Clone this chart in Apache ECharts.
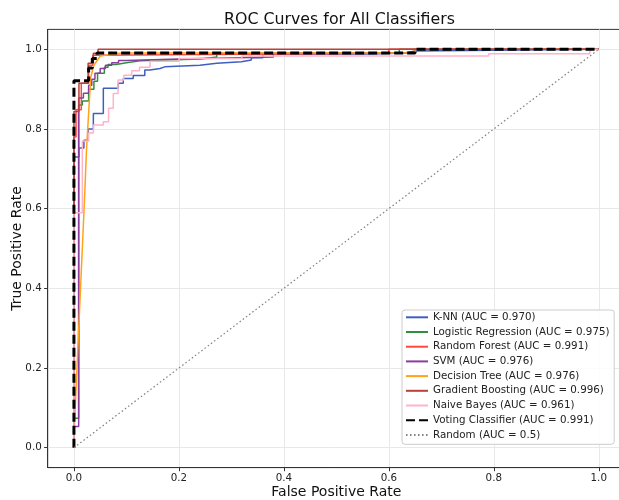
<!DOCTYPE html>
<html><head><meta charset="utf-8">
<script src="https://cdn.jsdelivr.net/npm/echarts@6/dist/echarts.min.js"></script>
<style>html,body{margin:0;padding:0;background:#fff}#c{width:619px;height:500px}</style>
</head><body><div id="c"></div>
<script>
const classifierNames = ['K-NN','Logistic Regression','Random Forest','SVM','Decision Tree','Gradient Boosting','Naive Bayes','Voting Classifier'];
const aucValues = ['0.970','0.975','0.991','0.976','0.976','0.996','0.961','0.991'];
const randomAuc = '0.5';

const knnRoc = [[0,0],[0,0.73],[0.0095,0.73],[0.0095,0.752],[0.019,0.752],[0.019,0.772],[0.027,0.772],[0.027,0.80],[0.037,0.80],[0.037,0.839],[0.056,0.839],[0.056,0.902],[0.0845,0.902],[0.0845,0.915],[0.094,0.915],[0.094,0.927],[0.113,0.927],[0.113,0.934],[0.135,0.934],[0.135,0.948],[0.145,0.948],[0.145,0.952],[0.164,0.952],[0.164,0.956],[0.173,0.956],[0.173,0.960],[0.24,0.960],[0.24,0.965],[0.272,0.965],[0.272,0.969],[0.319,0.969],[0.319,0.973],[0.338,0.973],[0.338,0.979],[0.36,0.979],[0.36,0.988],[0.564,0.988],[0.564,0.991],[0.63,0.991],[0.63,0.996],[0.65,0.996],[0.65,1],[1,1]];
const lrRoc = [[0,0],[0,0.074],[0.009,0.074],[0.009,0.86],[0.016,0.86],[0.016,0.87],[0.028,0.87],[0.028,0.90],[0.038,0.90],[0.038,0.92],[0.045,0.92],[0.045,0.94],[0.058,0.94],[0.058,0.955],[0.065,0.955],[0.065,0.962],[0.08,0.962],[0.08,0.966],[0.10,0.966],[0.10,0.971],[0.126,0.971],[0.126,0.976],[0.243,0.976],[0.243,0.981],[0.272,0.981],[0.272,0.99],[0.62,0.99],[0.62,1],[1,1]];
const rfRoc = [[0,0],[0,0.78],[0.004,0.78],[0.004,0.848],[0.014,0.848],[0.014,0.915],[0.028,0.915],[0.028,0.96],[0.036,0.96],[0.036,0.985],[0.046,0.985],[0.046,0.99],[0.60,0.99],[0.60,1],[1,1]];
const svmRoc = [[0,0],[0,0.053],[0.009,0.053],[0.009,0.878],[0.018,0.878],[0.018,0.89],[0.028,0.89],[0.028,0.91],[0.034,0.91],[0.034,0.925],[0.04,0.925],[0.04,0.94],[0.05,0.94],[0.05,0.952],[0.06,0.952],[0.06,0.96],[0.072,0.96],[0.072,0.966],[0.085,0.966],[0.085,0.972],[0.10,0.972],[0.10,0.976],[0.20,0.976],[0.20,0.981],[0.38,0.981],[0.38,0.99],[0.65,0.99],[0.65,1],[1,1]];
const dtRoc = [[0,0],[0,0.03],[0.02,0.62],[0.024,0.75],[0.032,0.93],[0.038,0.96],[0.05,0.983],[0.09,0.991],[0.65,0.991],[0.65,1],[1,1]];
const gbRoc = [[0,0],[0,0.844],[0.0095,0.844],[0.0095,0.915],[0.027,0.915],[0.027,0.965],[0.037,0.965],[0.037,0.99],[0.046,0.99],[0.046,1],[1,1]];
const nbRoc = [[0,0],[0,0.59],[0.016,0.59],[0.016,0.77],[0.028,0.77],[0.028,0.79],[0.037,0.79],[0.037,0.81],[0.056,0.81],[0.056,0.818],[0.066,0.818],[0.066,0.852],[0.075,0.852],[0.075,0.889],[0.084,0.889],[0.084,0.923],[0.095,0.923],[0.095,0.935],[0.11,0.935],[0.11,0.946],[0.125,0.946],[0.125,0.955],[0.145,0.955],[0.145,0.97],[0.20,0.97],[0.20,0.977],[0.32,0.977],[0.32,0.983],[0.79,0.983],[0.79,0.989],[0.983,0.989],[0.983,1],[1,1]];
const votingRoc = [[0,0],[0,0.921],[0.028,0.921],[0.028,0.953],[0.035,0.953],[0.035,0.977],[0.044,0.977],[0.044,0.991],[0.65,0.991],[0.65,1],[1,1]];
const randomRoc = [[0,0],[1,1]];
const tickValues = [0,0.2,0.4,0.6,0.8,1.0];

const curves = [knnRoc, lrRoc, rfRoc, svmRoc, dtRoc, gbRoc, nbRoc, votingRoc];
const colors = ['#3f5fbf','#2f8f3f','#ff4a3d','#8a3d9e','#ffa31a','#b8413a','#ffb3c6','#000000'];

const series = curves.map((d, i) => ({
  name: classifierNames[i] + ' (AUC = ' + aucValues[i] + ')',
  type: 'line', data: d, symbol: 'circle', showSymbol: false, symbolSize: 0,
  animation: false, silent: true,
  lineStyle: i === 7 ? {color: '#000', width: 3, type: [9, 4]} : {color: colors[i], width: 1.5},
  itemStyle: {color: colors[i]}
}));
series.push({
  name: 'Random (AUC = ' + randomAuc + ')', type: 'line', data: randomRoc,
  symbol: 'circle', showSymbol: false, symbolSize: 0, animation: false, silent: true,
  lineStyle: {color: '#7f7f7f', width: 1.2, type: [1.5, 2.5]}, itemStyle: {color: '#7f7f7f'}
});

const axisCommon = {
  type: 'value', min: -0.05, max: 1.05,
  axisLine: {show: true, onZero: false, lineStyle: {color: '#333', width: 1}},
  axisTick: {show: true, customValues: tickValues, length: 3.6, lineStyle: {color: '#333'}},
  axisLabel: {customValues: tickValues, formatter: v => Number(v).toFixed(1), color: '#222', fontSize: 10.3, fontFamily: 'DejaVu Sans', margin: 6},
  splitLine: {show: true, lineStyle: {color: '#e8e8e8', width: 1}},
  nameLocation: 'middle',
  nameMoveOverlap: false,
  nameTextStyle: {fontSize: 14, fontFamily: 'DejaVu Sans', color: '#111'}
};

const chart = echarts.init(document.getElementById('c'), null, {renderer: 'canvas'});
chart.setOption({
  animation: false,
  backgroundColor: '#fff',
  title: {text: 'ROC Curves for All Classifiers', left: 219, top: 7,
    textStyle: {fontSize: 15.8, fontWeight: 'normal', fontFamily: 'DejaVu Sans', color: '#111'}},
  grid: {left: 47.7, top: 29.4, right: -6, bottom: 32.4, show: true, borderColor: '#333', borderWidth: 1,
    containLabel: false, outerBoundsMode: 'none'},
  xAxis: Object.assign({}, axisCommon, {name: 'False Positive Rate', nameGap: 18}),
  yAxis: Object.assign({}, axisCommon, {name: 'True Positive Rate', nameGap: 23}),
  legend: {
    orient: 'vertical', left: 402, top: 310, padding: [2.3, 4.7, 4.4, 3],
    itemWidth: 22, itemHeight: 12, itemGap: 4.7,
    backgroundColor: 'rgba(255,255,255,0.85)', borderColor: '#cccccc', borderWidth: 1, borderRadius: 3,
    itemStyle: {opacity: 0},
    textStyle: {fontSize: 10.3, fontFamily: 'DejaVu Sans', color: '#222'},
    selectedMode: false,
    data: series.map(s => s.name)
  },
  series: series
});
</script></body></html>
